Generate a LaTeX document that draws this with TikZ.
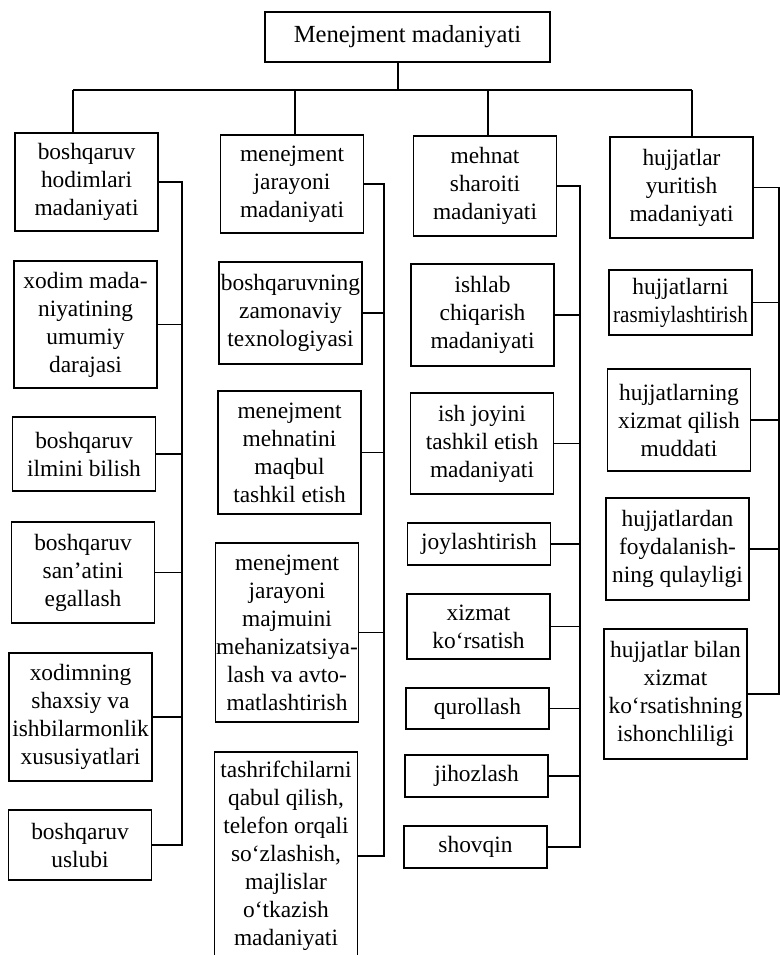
\documentclass[tikz,border=0pt]{standalone}
\usepackage{graphicx}
\usepackage{fontspec}
\setmainfont{Liberation Serif}

\begin{document}
\begin{tikzpicture}[x=0.5pt,y=-0.5pt,line width=0.8pt,every node/.style={font=\fontsize{11.7}{14}\selectfont},
	blk/.style={draw,align=center,inner sep=0pt,minimum width=71.5pt}]

	\useasboundingbox (0,0) rectangle (780,955);

	\node[blk,minimum width=142.5pt,minimum height=25pt,font=\fontsize{12.3}{14}\selectfont] (m) at (407.5,37) {Menejment madaniyati};

	\node[blk,minimum height=49pt]   (a1) at (86.5,182)   {boshqaruv\\hodimlari\\madaniyati};
	\node[blk,minimum height=63.5pt] (a2) at (85.5,324.5) {xodim mada-\\niyatining\\umumiy\\darajasi};
	\node[blk,minimum height=37pt]   (a3) at (84,454)     {boshqaruv\\ilmini bilish};
	\node[blk,minimum height=50.5pt] (a4) at (83,572.5)   {boshqaruv\\san’atini\\egallash};
	\node[blk,minimum height=64pt]   (a5) at (80.5,717)   {xodimning\\shaxsiy va\\ishbilarmonlik\\xususiyatlari};
	\node[blk,minimum height=35pt]   (a6) at (80,845)     {boshqaruv\\uslubi};

	\node[blk,minimum height=49pt]   (b1) at (292,184)    {menejment\\jarayoni\\madaniyati};
	\node[blk,minimum height=51pt]   (b2) at (290.5,313)  {boshqaruvning\\zamonaviy\\texnologiyasi};
	\node[blk,minimum height=61.5pt] (b3) at (289.5,452.5) {menejment\\mehnatini\\maqbul\\tashkil etish};
	\node[blk,minimum height=89.5pt] (b4) at (287,632.5)  {menejment\\jarayoni\\majmuini\\mehanizatsiya-\\lash va avto-\\matlashtirish};
	\node[blk,minimum height=104pt]  (b5) at (286,856)    {tashrifchilarni\\qabul qilish,\\telefon orqali\\so‘zlashish,\\majlislar\\o‘tkazish\\madaniyati};

	\node[blk,minimum height=50pt]   (c1) at (485,186)    {mehnat\\sharoiti\\madaniyati};
	\node[blk,minimum height=51pt]   (c2) at (482.5,315)  {ishlab\\chiqarish\\madaniyati};
	\node[blk,minimum height=50.5pt] (c3) at (482,443.5)  {ish joyini\\tashkil etish\\madaniyati};
	\node[blk,minimum height=21pt]   (c4) at (479,544)    {joylashtirish};
	\node[blk,minimum height=32.5pt] (c5) at (478.5,626.5) {xizmat\\ko‘rsatish};
	\node[blk,minimum height=20.5pt] (c6) at (477.5,708.5) {qurollash};
	\node[blk,minimum height=21pt]   (c7) at (476.5,776)  {jihozlash};
	\node[blk,minimum height=21pt]   (c8) at (475.5,847)  {shovqin};

	\node[blk,minimum height=50.5pt] (d1) at (681.5,187.5) {hujjatlar\\yuritish\\madaniyati};
	\node[blk,minimum height=32.5pt] (d2) at (680.5,302.5) {hujjatlarni\\\scalebox{0.9}[1]{rasmiylashtirish}};
	\node[blk,minimum height=51pt]   (d3) at (679,420)    {hujjatlarning\\xizmat qilish\\muddati};
	\node[blk,minimum height=51pt]   (d4) at (677.5,549)  {hujjatlardan\\foydalanish-\\ning qulayligi};
	\node[blk,minimum height=65pt]   (d5) at (675.5,694)  {hujjatlar bilan\\xizmat\\ko‘rsatishning\\ishonchliligi};

	\coordinate (s)  at (398,90);
	\coordinate (p1) at (73,90);
	\coordinate (p2) at (295,90);
	\coordinate (p3) at (488,90);
	\coordinate (p4) at (692,90);
	\coordinate (t1) at (182,0);
	\coordinate (t2) at (384,0);
	\coordinate (t3) at (580,0);
	\coordinate (t4) at (779,0);

	\draw (m.south -| s) -- (s);
	\draw (p1) -- (p4);
	\foreach \p/\n in {p1/a1,p2/b1,p3/c1,p4/d1}
		\draw (\p) -- (\p |- \n.north);

	\draw (a1.east) -- (a1.east -| t1) -- (a6.east -| t1) -- (a6.east);
	\draw (b1.east) -- (b1.east -| t2) -- (b5.east -| t2) -- (b5.east);
	\draw (c1.east) -- (c1.east -| t3) -- (c8.east -| t3) -- (c8.east);
	\draw (d1.east) -- (d1.east -| t4) -- (d5.east -| t4) -- (d5.east);
	\foreach \n/\t in {a2/t1,a3/t1,a4/t1,a5/t1,b2/t2,b3/t2,b4/t2,c2/t3,c3/t3,c4/t3,c5/t3,c6/t3,c7/t3,d2/t4,d3/t4,d4/t4}
		\draw (\n.east) -- (\n.east -| \t);

\end{tikzpicture}
\end{document}
